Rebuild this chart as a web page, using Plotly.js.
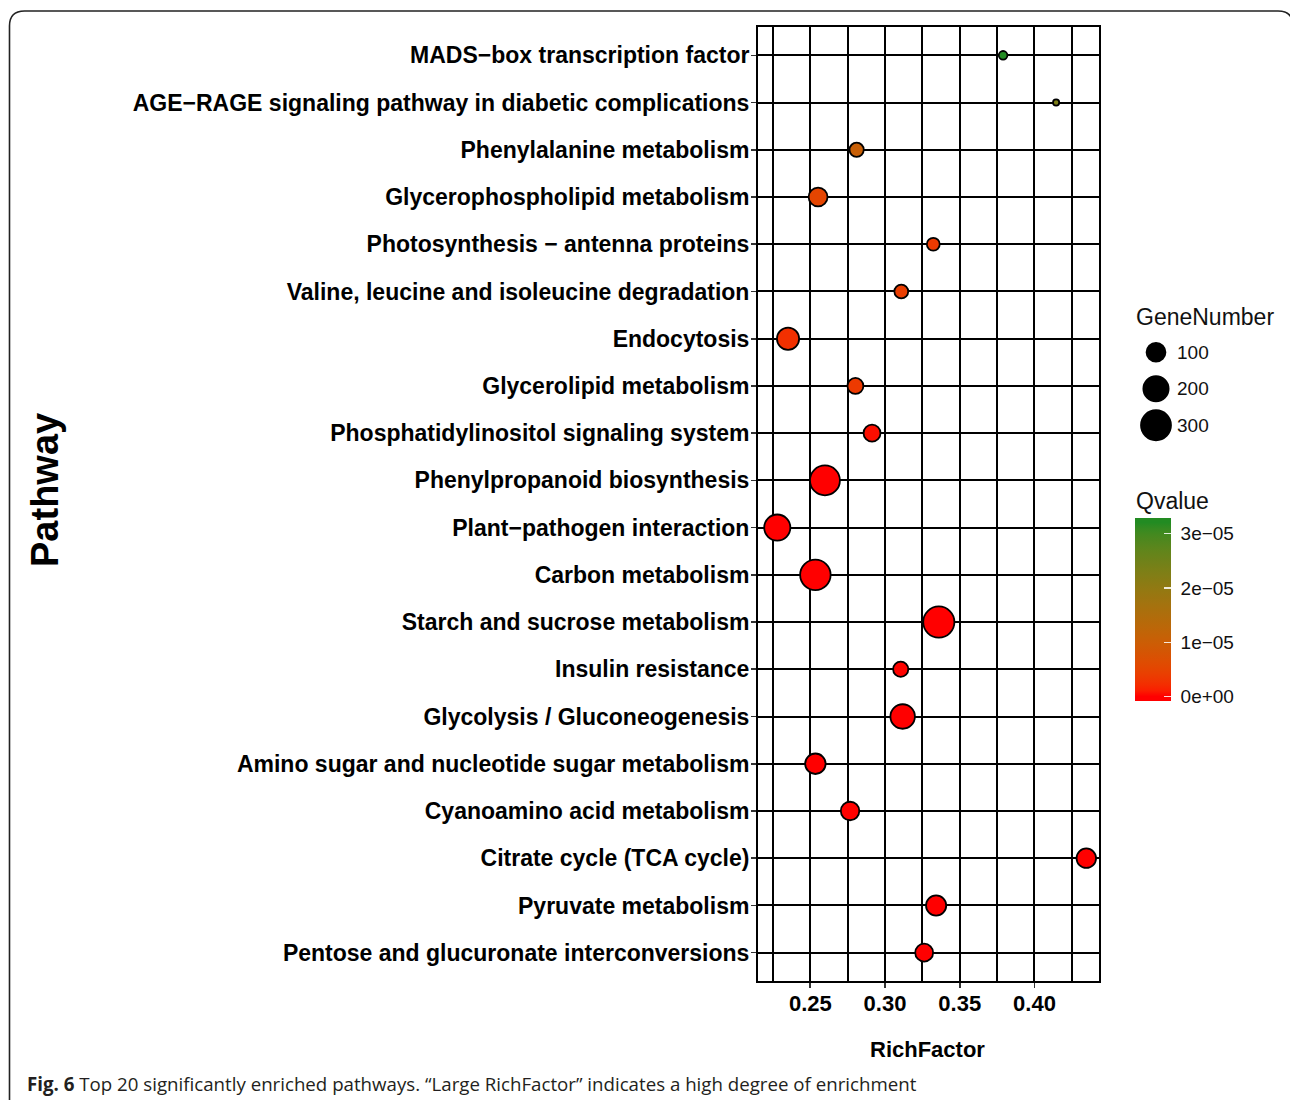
<!DOCTYPE html>
<html>
<head>
<meta charset="utf-8">
<script src="https://cdn.plot.ly/plotly-3.0.1.min.js"></script>
<style>
html,body{margin:0;padding:0;background:#fff;}
#chart{width:1290px;height:1100px;}
</style>
</head>
<body>
<div id="chart"></div>
<script>
// ---------------- data (top to bottom) ----------------
var pathways = [
  "MADS\u2212box transcription factor",
  "AGE\u2212RAGE signaling pathway in diabetic complications",
  "Phenylalanine metabolism",
  "Glycerophospholipid metabolism",
  "Photosynthesis \u2212 antenna proteins",
  "Valine, leucine and isoleucine degradation",
  "Endocytosis",
  "Glycerolipid metabolism",
  "Phosphatidylinositol signaling system",
  "Phenylpropanoid biosynthesis",
  "Plant\u2212pathogen interaction",
  "Carbon metabolism",
  "Starch and sucrose metabolism",
  "Insulin resistance",
  "Glycolysis / Gluconeogenesis",
  "Amino sugar and nucleotide sugar metabolism",
  "Cyanoamino acid metabolism",
  "Citrate cycle (TCA cycle)",
  "Pyruvate metabolism",
  "Pentose and glucuronate interconversions"
];
var richFactor = [0.379, 0.4145, 0.281, 0.2552, 0.3323, 0.3109, 0.2351, 0.2802, 0.2913, 0.2598,
                  0.2279, 0.2534, 0.336, 0.3105, 0.3118, 0.2534, 0.2766, 0.4347, 0.3342, 0.3262];
var geneNumber = [23, 20, 52, 100, 42, 49, 147, 67, 77, 299, 218, 313, 330, 60, 186, 121, 95, 108, 117, 88];
var qvalue = [3.2e-5, 2.3e-5, 1.05e-5, 5.0e-6, 3.5e-6, 4.0e-6, 2.5e-6, 3.5e-6, 5e-7, 2e-10,
              1e-9, 1e-12, 1e-15, 1e-7, 1e-11, 1e-8, 2e-8, 1e-9, 1e-10, 1e-9];
var xTickVals = [0.25, 0.30, 0.35, 0.40];
var xTickText = ["0.25", "0.30", "0.35", "0.40"];
var sizeBreaks = [100, 200, 300];
var sizeBreakText = ["100", "200", "300"];
var qTickVals = [0, 1e-5, 2e-5, 3e-5];
var qTickText = ["0e+00", "1e\u221205", "2e\u221205", "3e\u221205"];

// ---------------- scales ----------------
var W = 1290, H = 1100;
function px(x){ return x / W; }
function py(y){ return (H - y) / H; }

var LINE_W = 1.8;
var gMin = Math.min.apply(null, geneNumber), gMax = Math.max.apply(null, geneNumber);
function sizeScale(n){
  var t = Math.max(0, Math.min(1, (n - gMin) / (gMax - gMin)));
  return 8 + 25 * Math.sqrt(t) - LINE_W;   // area-type size scale (ggplot-like)
}

// Lab interpolation red -> forestgreen
function lin(c){ c/=255; return c<=0.04045? c/12.92 : Math.pow((c+0.055)/1.055,2.4); }
function hexToLab(h){
  var r=lin(parseInt(h.substr(1,2),16)), g=lin(parseInt(h.substr(3,2),16)), b=lin(parseInt(h.substr(5,2),16));
  var X=(0.4124*r+0.3576*g+0.1805*b)/0.95047, Y=(0.2126*r+0.7152*g+0.0722*b), Z=(0.0193*r+0.1192*g+0.9505*b)/1.08883;
  function f(t){ return t>0.008856? Math.cbrt(t) : 7.787*t+16/116; }
  var fx=f(X), fy=f(Y), fz=f(Z);
  return [116*fy-16, 500*(fx-fy), 200*(fy-fz)];
}
function labToHex(L){
  var fy=(L[0]+16)/116, fx=fy+L[1]/500, fz=fy-L[2]/200;
  function fi(t){ var t3=t*t*t; return t3>0.008856? t3 : (t-16/116)/7.787; }
  var X=0.95047*fi(fx), Y=fi(fy), Z=1.08883*fi(fz);
  var r= 3.2406*X-1.5372*Y-0.4986*Z, g=-0.9689*X+1.8758*Y+0.0415*Z, b=0.0557*X-0.2040*Y+1.0570*Z;
  function gm(c){ c = c<=0.0031308? 12.92*c : 1.055*Math.pow(c,1/2.4)-0.055; c=Math.round(Math.max(0,Math.min(1,c))*255); return ('0'+c.toString(16)).slice(-2); }
  return '#'+gm(r)+gm(g)+gm(b);
}
var lowLab = hexToLab('#FF0000'), highLab = hexToLab('#228B22');
var qMin = Math.min.apply(null, qvalue), qMax = Math.max.apply(null, qvalue);
var pad = (qMax - qMin) / 38;
var cMin = qMin - pad, cMax = qMax + pad;
var colorscale = [];
var NST = 30;
colorscale.push([0, labToHex(lowLab)]);
for (var i = 0; i <= NST; i++){
  var f = i / NST;
  var lab = [lowLab[0]+(highLab[0]-lowLab[0])*f, lowLab[1]+(highLab[1]-lowLab[1])*f, lowLab[2]+(highLab[2]-lowLab[2])*f];
  colorscale.push([0.025 + 0.95*f, labToHex(lab)]);
}
colorscale.push([1, labToHex(highLab)]);

var FONT = "Liberation Sans, Arial, Helvetica, sans-serif";

// colour bar geometry (pixels)
var CB_LEFT = 1135, CB_TOP = 518.3, CB_LEN = 183.4, CB_THICK = 36;

var mainTrace = {
  type: 'scatter', mode: 'markers',
  x: richFactor, y: pathways,
  xaxis: 'x', yaxis: 'y',
  cliponaxis: false,
  marker: {
    size: geneNumber.map(sizeScale),
    sizemode: 'diameter',
    opacity: 1,
    color: qvalue,
    cmin: cMin, cmax: cMax,
    colorscale: colorscale,
    line: {color: '#000', width: LINE_W},
    showscale: true,
    colorbar: {
      x: px(CB_LEFT), xanchor: 'left', xref: 'paper',
      y: py(CB_TOP), yanchor: 'top', yref: 'paper',
      len: CB_LEN, lenmode: 'pixels',
      thickness: CB_THICK, thicknessmode: 'pixels',
      xpad: 0, ypad: 0, outlinewidth: 0,
      tickmode: 'array', tickvals: qTickVals,
      ticktext: qTickText.map(function(t){ return '\u00a0' + t; }),
      ticks: 'inside', ticklen: 7, tickwidth: 1.2, tickcolor: 'rgba(255,255,255,0.85)',
      tickfont: {family: FONT, size: 19, color: '#111'}
    }
  },
  hoverinfo: 'x+y', showlegend: false
};

var legendTrace = {
  type: 'scatter', mode: 'markers',
  x: sizeBreaks.map(function(){ return 0; }),
  y: sizeBreaks.map(function(v, i){ return i; }),
  xaxis: 'x2', yaxis: 'y2',
  cliponaxis: false,
  marker: {size: sizeBreaks.map(sizeScale), sizemode: 'diameter', opacity: 1, color: '#000', line: {color: '#000', width: LINE_W}},
  hoverinfo: 'skip', showlegend: false
};

var annotations = [
  {text: 'Pathway', x: px(45), y: py(490), xref: 'paper', yref: 'paper', showarrow: false,
   textangle: -90, font: {family: FONT, size: 38, color: '#000', weight: 'bold'}, xanchor: 'center', yanchor: 'middle'},
  {text: 'RichFactor', x: px(927), y: py(1049), xref: 'paper', yref: 'paper', showarrow: false,
   font: {family: FONT, size: 22, color: '#000', weight: 'bold'}, xanchor: 'center', yanchor: 'middle'},
  {text: 'GeneNumber', x: px(1134), y: py(317), xref: 'paper', yref: 'paper', showarrow: false,
   font: {family: FONT, size: 23, color: '#111'}, xanchor: 'left', yanchor: 'middle'},
  {text: 'Qvalue', x: px(1134), y: py(501), xref: 'paper', yref: 'paper', showarrow: false,
   font: {family: FONT, size: 23, color: '#111'}, xanchor: 'left', yanchor: 'middle'},
  {text: '<b>Fig. 6</b> Top 20 significantly enriched pathways. \u201cLarge RichFactor\u201d indicates a high degree of enrichment',
   x: px(25), y: py(1083), xref: 'paper', yref: 'paper', showarrow: false,
   font: {family: "Open Sans, Noto Sans, sans-serif", size: 18.7, color: '#231f20'}, xanchor: 'left', yanchor: 'middle'}
];
sizeBreakText.forEach(function(t, i){
  annotations.push({text: t, x: px(1175), xref: 'paper', y: i, yref: 'y2', showarrow: false,
    font: {family: FONT, size: 19, color: '#111'}, xanchor: 'left', yanchor: 'middle'});
});

// rounded outer frame
var rx = 15 / W, ry = 15 / H;
var L0 = px(9.5), T0 = py(11), R0 = px(1293);
var framePath = 'M ' + L0 + ',' + (-0.02) + ' L ' + L0 + ',' + (T0 - ry) +
  ' Q ' + L0 + ',' + T0 + ' ' + (L0 + rx) + ',' + T0 +
  ' L ' + (R0 - rx) + ',' + T0 +
  ' Q ' + R0 + ',' + T0 + ' ' + R0 + ',' + (T0 - ry) + ' L ' + R0 + ',' + (-0.02);

var shapes = [{type: 'path', xref: 'paper', yref: 'paper', path: framePath, line: {color: '#222', width: 1.6}, layer: 'above'}];

var layout = {
  width: W, height: H,
  margin: {l: 0, r: 0, t: 0, b: 0, pad: 0},
  paper_bgcolor: '#fff', plot_bgcolor: '#fff',
  showlegend: false,
  xaxis: {
    domain: [px(758), px(1099)],
    range: [0.215, 0.4432],
    tickmode: 'array', tickvals: xTickVals, ticktext: xTickText,
    ticks: 'outside', ticklen: 5, tickwidth: 1.6, tickcolor: '#333',
    ticklabelstandoff: -3,
    tickfont: {family: FONT, size: 22, color: '#000', weight: 'bold'},
    showgrid: true, gridcolor: '#000', gridwidth: 2,
    minor: {tickmode: 'array', tickvals: [0.225, 0.275, 0.325, 0.375, 0.425], showgrid: true, gridcolor: '#000', gridwidth: 2, ticks: ''},
    showline: true, linecolor: '#000', linewidth: 2, mirror: true,
    zeroline: false, fixedrange: true, anchor: 'y'
  },
  yaxis: {
    domain: [py(981), py(27)],
    type: 'category', categoryorder: 'array', categoryarray: pathways,
    range: [pathways.length - 1 + 0.6, -0.6],
    ticks: 'outside', ticklen: 5, tickwidth: 1.6, tickcolor: '#333',
    ticklabelstandoff: -3,
    tickfont: {family: FONT, size: 23, color: '#000', weight: 'bold'},
    showgrid: true, gridcolor: '#000', gridwidth: 2,
    showline: true, linecolor: '#000', linewidth: 2, mirror: true,
    zeroline: false, fixedrange: true, anchor: 'x'
  },
  xaxis2: {domain: [px(1136), px(1176)], range: [-1, 1], visible: false, fixedrange: true, anchor: 'y2'},
  yaxis2: {domain: [py(443.5), py(334)], range: [2.5, -0.5], visible: false, fixedrange: true, anchor: 'x2'},
  annotations: annotations,
  shapes: shapes
};

Plotly.newPlot('chart', [mainTrace, legendTrace], layout, {displayModeBar: false, staticPlot: true});
</script>
</body>
</html>
